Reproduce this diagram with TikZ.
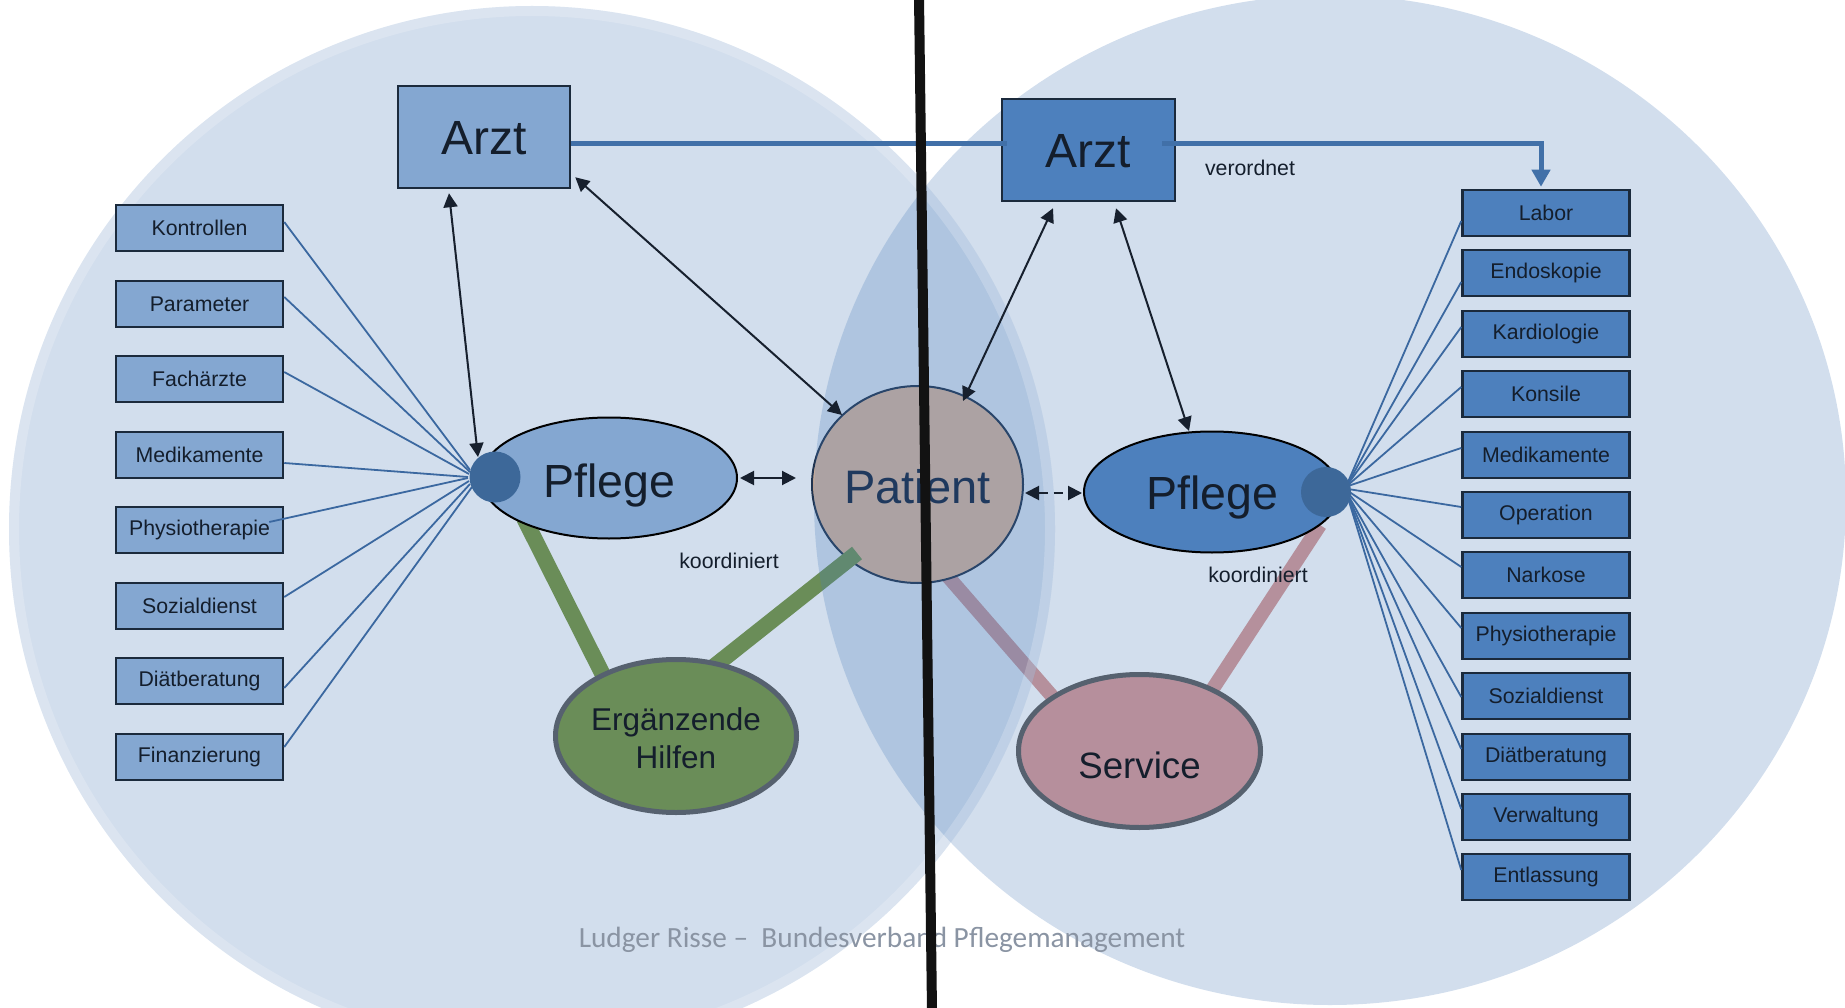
\documentclass[tikz,border=0pt]{standalone}
\usepackage{fontspec}
\setmainfont{Liberation Sans}
\newfontfamily\footfont{Carlito}
\usetikzlibrary{arrows.meta,shapes.geometric,calc}
\definecolor{bgc}{HTML}{D2DEED}
\definecolor{lfill}{HTML}{84A7D1}
\definecolor{rfill}{HTML}{4D80BD}
\definecolor{dotc}{HTML}{3D6899}
\definecolor{bordc}{HTML}{1B2A3C}
\definecolor{txtc}{HTML}{141E2C}
\definecolor{spokec}{HTML}{3B68A0}
\definecolor{arztc}{HTML}{4170A8}
\definecolor{arrc}{HTML}{17202E}
\definecolor{greenc}{HTML}{6A8D58}
\definecolor{pinkc}{HTML}{B5909C}
\definecolor{servc}{HTML}{B68F9C}
\definecolor{ringc}{HTML}{56616F}
\definecolor{patc}{HTML}{CDAF9B}
\definecolor{patb}{HTML}{1F3350}
\definecolor{tintc}{HTML}{4A7EBB}
\definecolor{footc}{HTML}{8A94A3}
\definecolor{HTMLdark}{HTML}{112340}
\newcommand{\fsz}[2]{\fontsize{#1}{#2}\selectfont}
\newcommand{\lowtxt}[2]{\raisebox{-#1pt}[0pt][0pt]{#2}}
\pgfdeclarelayer{back}
\pgfdeclarelayer{mid}
\pgfdeclarelayer{front}
\pgfsetlayers{back,mid,main,front}
\tikzset{
  lbox/.style={draw=bordc, line width=2.5pt, fill=lfill, minimum width=167pt, minimum height=46pt, inner sep=0pt, text=txtc, font=\fsz{21.3}{24}},
  rbox/.style={lbox, fill=rfill},
  arztbox/.style={draw=bordc, line width=2.5pt, minimum width=172pt, minimum height=102pt, inner sep=0pt, text=txtc, font=\fsz{48}{50}},
  pflege/.style={ellipse, draw=black, line width=2pt, minimum width=256pt, minimum height=121pt, inner sep=0pt, text=txtc, font=\fsz{46.5}{50}},
  dotnode/.style={circle, fill=dotc, inner sep=0pt, minimum size=51pt},
  spoke/.style={draw=spokec, line width=1.8pt},
  dbl/.style={draw=arrc, line width=2pt, >={Triangle[length=14pt,width=14pt]}, <->},
  band/.style={line width=16pt},
  helper/.style={ellipse, draw=ringc, line width=5pt, inner sep=0pt, text=txtc, minimum width=241pt, minimum height=153pt},
  lbl/.style={text=txtc, font=\fsz{21.3}{24}, inner sep=0pt},
  patient/.style={ellipse, fill=patc, draw=patb, line width=2pt, minimum width=211pt, minimum height=197pt, inner sep=0pt, text=HTMLdark, font=\fsz{47}{50}}
}
\begin{document}
\begin{tikzpicture}[x=1pt,y=-1pt]
\path[use as bounding box] (0,0) rectangle (1845,1008);
% nodes
\node[arztbox, fill=lfill] (arztL) at (484,137) {\lowtxt{18}{Arzt}};
\node[arztbox, fill=rfill, minimum width=173pt] (arztR) at (1088.5,150) {\lowtxt{18}{Arzt}};
\node[pflege, fill=lfill] (pflL) at (609,478) {\lowtxt{19}{Pflege}};
\node[pflege, fill=rfill] (pflR) at (1212,492) {\lowtxt{17}{Pflege}};
\node[helper, fill=greenc, align=center, font=\fsz{31.5}{38}] (erg) at (676,736) {\lowtxt{13}{Ergänzende}\\\lowtxt{13}{Hilfen}};
\node[helper, fill=servc, font=\fsz{36.7}{40}, minimum width=242pt] (serv) at (1139.5,751) {\lowtxt{27}{Service}};
\coordinate (patctr) at (917.5,484.5);
% background circles, the band under the patient, and the patient
\begin{pgfonlayer}{back}
  \fill[bgc] (1330,500) ellipse [x radius=516pt, y radius=505pt];
  \fill[bgc] (532,529) ellipse [x radius=523pt, y radius=523pt];
  \draw[band, pinkc, line width=14pt] ($(patctr)+(20,80)$) -- ($(serv.center)+(-81.5,-48)$);
  \node[patient] (pat) at (patctr) {\lowtxt{18.5}{Patient}};
\end{pgfonlayer}
% left list
\foreach \n/\t/\y in {lb1/Kontrollen/228, lb2/Parameter/304, lb3/Fachärzte/379, lb4/Medikamente/455, lb5/Physiotherapie/530, lb6/Sozialdienst/606, lb7/Diätberatung/681, lb8/Finanzierung/757}
  \node[lbox] (\n) at (199.5,\y) {\t};
% right list
\foreach \n/\t/\y in {rb1/Labor/213, rb2/Endoskopie/273, rb3/Kardiologie/334, rb4/Konsile/394, rb5/Medikamente/455, rb6/Operation/515, rb7/Narkose/575, rb8/Physiotherapie/636, rb9/Sozialdienst/696, rb10/Diätberatung/757, rb11/Verwaltung/817, rb12/Entlassung/877}
  \node[rbox] (\n) at (1546,\y) {\t};
% thick bands and tint
\begin{pgfonlayer}{mid}
  \draw[band, greenc] ($(pflL.center)+(-85,40)$) -- ($(erg.center)+(-73,-61)$);
  \draw[band, greenc] ($(pat.center)+(-60.5,68.5)$) -- ($(erg.center)+(36,-68)$);
  \draw[band, pinkc, line width=14pt] ($(pflR.center)+(108,33)$) -- ($(serv.center)+(72.5,-61)$);
  \begin{scope}
    \clip (532,529) ellipse [x radius=523pt, y radius=523pt];
    \fill[tintc, opacity=0.25] (1330,500) ellipse [x radius=516pt, y radius=505pt];
  \end{scope}
  \draw[white, opacity=0.2, line width=10pt] (532,529) ellipse [x radius=518pt, y radius=518pt];
\end{pgfonlayer}
% spoke hubs (the dark dots)
\coordinate (hubL) at (495,477);
\coordinate (hubR) at (1326,492);
% left spokes
\foreach \n/\o/\ex/\ey in {lb1/-6/-25/-7, lb2/-7/-25/-5, lb3/-7/-26/-3, lb4/8/-27/0, lb6/-9/-26/4, lb7/7/-25/7, lb8/-10/-23/10}
  \draw[spoke] ($(\n.east)+(0,\o)$) -- ($(hubL)+(\ex,\ey)$);
\draw[spoke] ($(lb5.east)+(-15,-8)$) -- ($(hubL)+(-27,1)$);
% right spokes
\foreach \n/\o/\sy in {rb1/8/482, rb2/9/483, rb3/-7/484, rb4/-7/485, rb5/-7/486, rb6/-8/489, rb7/-8/491, rb8/-8/493, rb9/1/495, rb10/-8/496, rb11/-8/497, rb12/-7/498}
  \draw[spoke] ($(hubR)+(22,\sy-492)$) -- ($(\n.west)+(0,\o)$);
% dots above spokes
\node[dotnode] (dotL) at (hubL) {};
\node[dotnode, minimum size=50pt] (dotR) at (hubR) {};
% Arzt connector line
\draw[arztc, line width=5pt] ($(arztL.east)+(0,7)$) -- ($(arztR.west)+(6,-6)$);
\draw[arztc, line width=5pt, ->, >={Triangle[length=17pt,width=18pt]}] ($(arztR.east)+(-14,-6)$) -| ($(rb1.north)+(-5,-2)$);
% double arrows
\draw[dbl] ($(arztL.south)+(-35,4)$) -- ($(dotL.center)+(-17,-20)$);
\draw[dbl] ($(arztL.south east)+(4,-12)$) -- ($(pat.center)+(-75.5,-69.5)$);
\draw[dbl] ($(arztR.south)+(-35.5,6)$) -- ($(pat.center)+(45.5,-83.5)$);
\draw[dbl] ($(arztR.south)+(27.5,6)$) -- ($(pflR.center)+(-23,-61)$);
\draw[dbl] ($(pflL.east)+(2,0)$) -- ($(pat.west)+(-15,-6.5)$);
\draw[dbl, dash pattern=on 9pt off 6pt] ($(pat.east)+(1,8.5)$) -- ($(pflR.west)+(-1,1)$);
% labels
\node[lbl] (verordnet) at (1250,168) {verordnet};
\node[lbl] (koordL) at (729,561) {koordiniert};
\node[lbl] (koordR) at (1258,575) {koordiniert};
% footer and black line
\begin{pgfonlayer}{front}
  \node[font=\footfont\fsz{29.3}{32}, text=footc, inner sep=0pt] (foot) at (882,940) {Ludger Risse –\ \ Bundesverband Pflegemanagement};
  \coordinate (lt) at (919,-3);
  \coordinate (lb) at (932,1011);
  \draw[black!93, line width=10pt] (lt) -- (lb);
\end{pgfonlayer}
\end{tikzpicture}
\end{document}
